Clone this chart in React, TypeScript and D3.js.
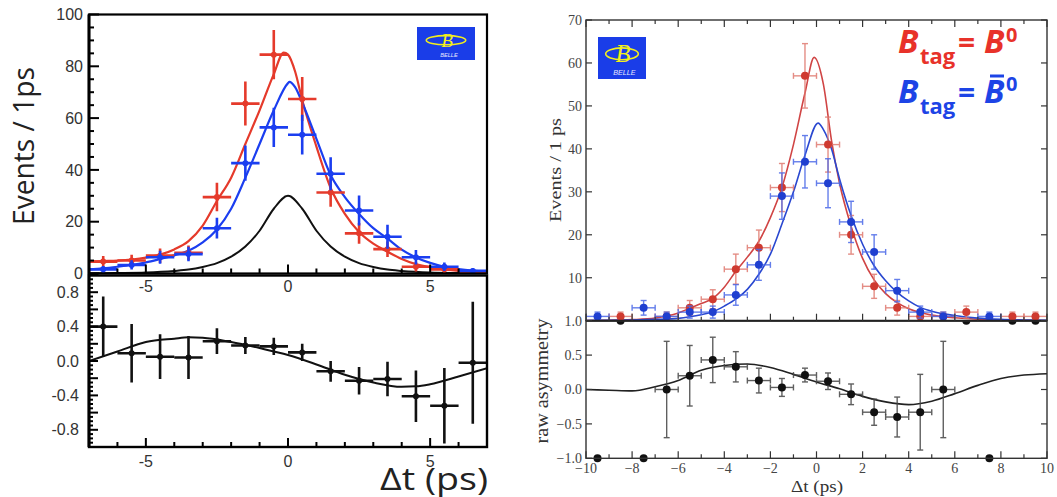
import React from 'react';
import * as d3 from 'd3';

// ================= LEFT PANEL (Belle, events vs Δt) =================
const leftBins = [-6.5, -5.5, -4.5, -3.5, -2.5, -1.5, -0.5, 0.5, 1.5, 2.5, 3.5, 4.5, 5.5, 6.5];
const leftRedEvents = [4.6, 5.0, 6.9, 8.0, 29.5, 65.6, 84.5, 67.4, 31.3, 15.5, 9.4, 2.6, 1.6, 0.7];
const leftRedErr = [2.2, 2.2, 2.8, 2.8, 5.5, 8.5, 9.5, 8.5, 5.5, 4.0, 3.0, 1.8, 1.4, 1.0];
const leftBlueEvents = [1.6, 3.3, 6.3, 7.5, 17.5, 42.6, 56.4, 53.6, 38.5, 24.3, 14.2, 6.3, 2.6, 1.0];
const leftBlueErr = [1.3, 1.8, 2.5, 2.8, 4.0, 6.8, 7.6, 7.7, 6.4, 5.8, 4.6, 2.8, 1.6, 1.0];
const leftAsym = [0.40, 0.09, 0.05, 0.04, 0.23, 0.18, 0.17, 0.10, -0.12, -0.23, -0.21, -0.41, -0.52, -0.02];
const leftAsymErr = [0.35, 0.34, 0.26, 0.25, 0.15, 0.10, 0.10, 0.10, 0.12, 0.16, 0.20, 0.30, 0.44, 0.71];

const leftRedFitX = [-7, -6.5, -6, -5.5, -5, -4.5, -4, -3.5, -3, -2.5, -2, -1.5, -1, -0.5, -0.15, 0, 0.25, 0.5, 1, 1.5, 2, 2.5, 3, 3.5, 4, 4.5, 5, 5.5, 6, 6.5, 7];
const leftRedFitY = [4.6, 4.8, 5.0, 5.4, 6.1, 7.3, 9.3, 12.5, 18.5, 28, 37, 50, 63, 77, 85.3, 84.5, 78, 67, 49, 33, 23, 16, 11.5, 8.4, 5.6, 3.6, 2.4, 1.6, 1.0, 0.6, 0.3];
const leftBlueFitX = [-7, -6.5, -6, -5.5, -5, -4.5, -4, -3.5, -3, -2.5, -2, -1.5, -1, -0.5, 0, 0.05, 0.25, 0.5, 1, 1.5, 2, 2.5, 3, 3.5, 4, 4.5, 5, 5.5, 6, 6.5, 7];
const leftBlueFitY = [1.6, 2.0, 2.6, 3.3, 4.3, 5.6, 7.0, 8.8, 12, 17, 25, 37, 50, 63, 73.5, 74, 72, 66, 52, 38, 29.5, 23, 17.5, 13.5, 9.2, 6.2, 4.1, 2.6, 1.7, 1.1, 0.7];
const leftBlackFitX = [-7, -6, -5, -4, -3.5, -3, -2.5, -2, -1.5, -1, -0.5, 0, 0.5, 1, 1.5, 2, 2.5, 3, 3.5, 4, 5, 6, 7];
const leftBlackFitY = [0.1, 0.2, 0.4, 1.0, 1.5, 2.5, 4.0, 6.5, 10.4, 16.5, 25, 30, 25, 16.5, 10.4, 6.5, 4.0, 2.5, 1.5, 1.0, 0.4, 0.2, 0.1];
const leftAsymFitX = [-7, -6, -5, -4, -3.5, -3, -2, -1, 0, 1, 2, 3, 4, 4.5, 5, 6, 7];
const leftAsymFitY = [0.0, 0.11, 0.22, 0.26, 0.275, 0.27, 0.22, 0.15, 0.07, -0.04, -0.16, -0.25, -0.30, -0.295, -0.27, -0.18, -0.085];

const leftYTopLabels = [0, 20, 40, 60, 80, 100];
const leftYBottomLabels = [0.8, 0.4, 0.0, -0.4, -0.8];
const leftXLabels = [-5, 0, 5];

// ================= RIGHT PANEL (Belle, events vs Δt, raw asymmetry) =================
const rightBins = [-9.5, -8.5, -7.5, -6.5, -5.5, -4.5, -3.5, -2.5, -1.5, -0.5, 0.5, 1.5, 2.5, 3.5, 4.5, 5.5, 6.5, 7.5, 8.5, 9.5];
const rightRedEvents = [0, 1, 0, 1, 3, 5, 12, 17, 31, 57, 41, 20, 8, 3, 1, 1, 2, 0, 1, 1];
const rightRedErr = [0, 1, 0, 1, 1.7, 2.2, 3.5, 4.1, 5.6, 7.5, 6.4, 4.5, 2.8, 1.7, 1, 1, 1.4, 0, 1, 1];
const rightBlueEvents = [1, 0, 3, 1, 2, 2, 6, 13, 29, 37, 32, 23, 16, 7, 2, 1, 0, 1, 0, 0];
const rightBlueErr = [1, 0, 1.7, 1, 1.4, 1.4, 2.4, 3.6, 5.4, 6.1, 5.7, 4.8, 4.0, 2.6, 1.4, 1, 0, 1, 0, 0];
const rightAsym = [-1, 1, -1, 0.0, 0.2, 0.43, 0.33, 0.13, 0.03, 0.21, 0.12, -0.07, -0.33, -0.4, -0.33, 0.0, 1, -1, 1, 1];
const rightAsymErr = [0, 0, 0, 0.7, 0.44, 0.33, 0.22, 0.18, 0.13, 0.10, 0.12, 0.15, 0.19, 0.29, 0.55, 0.7, 0, 0, 0, 0];

const rightRedFitX = [-10, -9, -8, -7, -6.5, -6, -5.5, -5, -4.5, -4, -3.5, -3, -2.5, -2, -1.5, -1, -0.5, -0.1, 0.3, 0.65, 1, 1.5, 2, 2.5, 3, 3.5, 4, 4.5, 5, 6, 7, 8, 9, 10];
const rightRedFitY = [0.05, 0.1, 0.25, 0.6, 1.1, 1.8, 2.9, 4.0, 5.2, 7.8, 11.5, 14.8, 18.5, 24, 31, 41, 53, 61.3, 55, 42, 32, 22, 14.5, 9.5, 6.3, 4.2, 2.8, 1.9, 1.3, 0.7, 0.35, 0.2, 0.1, 0.05];
const rightBlueFitX = [-10, -9, -8, -7, -6, -5.5, -5, -4.5, -4, -3.5, -3, -2.5, -2, -1.5, -1, -0.5, 0.07, 0.3, 0.65, 1, 1.5, 2, 2.5, 3, 3.5, 4, 4.5, 5, 6, 7, 8, 9, 10];
const rightBlueFitY = [0.05, 0.1, 0.15, 0.3, 0.55, 0.9, 1.4, 2.1, 3.4, 5.0, 7.3, 10.8, 15.5, 22.5, 30, 38.5, 46, 44.5, 40, 33, 24.5, 17.8, 12.8, 9.3, 6.6, 4.6, 3.1, 2.2, 1.2, 0.6, 0.3, 0.15, 0.08];
const rightAsymFitX = [-10, -9, -8, -7, -6, -5, -4, -3, -2, -1, 0, 1, 2, 3, 4, 5, 6, 7, 8, 9, 10];
const rightAsymFitY = [0.0, -0.01, -0.02, 0.04, 0.13, 0.28, 0.35, 0.37, 0.32, 0.22, 0.11, 0.01, -0.1, -0.18, -0.22, -0.17, -0.06, 0.06, 0.16, 0.21, 0.23];

const rightYTopLabels = [10, 20, 30, 40, 50, 60, 70];
const rightYBottomLabels = [-1.0, -0.5, 0.0, 0.5, 1.0];
const rightXLabels = [-10, -8, -6, -4, -2, 0, 2, 4, 6, 8, 10];

const LRED = '#e53a2b';
const LBLUE = '#1b3ef0';
const RRED = '#cf3a30';
const RBLUE = '#1f3fd0';

type Sc = d3.ScaleLinear<number, number>;

function curvePath(xs: number[], ys: number[], x: Sc, y: Sc) {
  const pts: [number, number][] = xs.map((v, i) => [v, ys[i]]);
  return d3
    .line<[number, number]>()
    .x((d) => x(d[0]))
    .y((d) => y(d[1]))
    .curve(d3.curveMonotoneX)(pts) as string;
}

function LeftPoints({ bins, vals, errs, x, y, color }: { bins: number[]; vals: number[]; errs: number[]; x: Sc; y: Sc; color: string }) {
  return (
    <g stroke={color} fill={color} strokeWidth={2.6}>
      {bins.map((b, i) => (
        <g key={i}>
          <line x1={x(b - 0.5)} x2={x(b + 0.5)} y1={y(vals[i])} y2={y(vals[i])} />
          <line x1={x(b)} x2={x(b)} y1={y(vals[i] - errs[i])} y2={y(vals[i] + errs[i])} />
          <circle cx={x(b)} cy={y(vals[i])} r={3} stroke="none" />
        </g>
      ))}
    </g>
  );
}

function RightPoints({ bins, vals, errs, x, y, color, barColor, skipZero, noErrAtEdge }: { bins: number[]; vals: number[]; errs: number[]; x: Sc; y: Sc; color: string; barColor: string; skipZero?: boolean; noErrAtEdge?: boolean }) {
  const cap = 3;
  return (
    <g>
      {bins.map((b, i) => {
        if (skipZero && vals[i] === 0) return null;
        const cx = x(b);
        const cy = y(vals[i]);
        const showErr = !(noErrAtEdge && errs[i] === 0);
        const y1 = y(vals[i] - errs[i]);
        const y2 = y(vals[i] + errs[i]);
        const xa = x(b - 0.5);
        const xb = x(b + 0.5);
        return (
          <g key={i}>
            {showErr && (
              <g stroke={barColor} strokeWidth={1.4} opacity={0.85}>
                <line x1={xa} x2={xb} y1={cy} y2={cy} />
                <line x1={xa} x2={xa} y1={cy - cap} y2={cy + cap} />
                <line x1={xb} x2={xb} y1={cy - cap} y2={cy + cap} />
                {errs[i] > 0 && (
                  <g>
                    <line x1={cx} x2={cx} y1={y1} y2={y2} />
                    <line x1={cx - cap} x2={cx + cap} y1={y1} y2={y1} />
                    <line x1={cx - cap} x2={cx + cap} y1={y2} y2={y2} />
                  </g>
                )}
              </g>
            )}
            <circle cx={cx} cy={cy} r={4} fill={color} />
          </g>
        );
      })}
    </g>
  );
}

function BelleLogo({ x, y, w, h }: { x: number; y: number; w: number; h: number }) {
  return (
    <g>
      <rect x={x} y={y} width={w} height={h} fill="#1a3de8" />
      <ellipse cx={x + w * 0.5} cy={y + h * 0.4} rx={w * 0.34} ry={h * 0.14} fill="none" stroke="#f2ee1c" strokeWidth={1.6} />
      <text x={x + w * 0.52} y={y + h * 0.6} textAnchor="middle" fontFamily="Liberation Serif" fontStyle="italic" fontSize={h * 0.58} fill="#f2ee1c">
        B
      </text>
      <text x={x + w * 0.55} y={y + h * 0.9} textAnchor="middle" fontFamily="Liberation Sans" fontStyle="italic" fontSize={h * 0.17} fill="#e8e8ff">
        BELLE
      </text>
    </g>
  );
}

export default function App() {
  // left scales
  const xL = d3.scaleLinear().domain([-7, 7]).range([89, 487]);
  const yLT = d3.scaleLinear().domain([0, 100]).range([273.5, 14.5]);
  const yLB = d3.scaleLinear().domain([-1, 1]).range([447, 275]);
  // right scales
  const xR = d3.scaleLinear().domain([-10, 10]).range([586, 1047]);
  const yRT = d3.scaleLinear().domain([0, 70]).range([320.7, 20]);
  const yRB = d3.scaleLinear().domain([-1, 1]).range([458.3, 320.7]);

  const lTop = { x0: 89, x1: 487, y0: 14.5, y1: 273.5 };
  const lBot = { x0: 89, x1: 487, y0: 275.5, y1: 447 };
  const rTop = { x0: 586, x1: 1047, y0: 20, y1: 320.7 };
  const rBot = { x0: 586, x1: 1047, y0: 320.7, y1: 458.3 };

  const lfmt = (v: number) => (Number.isInteger(v) && Math.abs(v) >= 1 ? String(v) : v.toFixed(1));
  const rfmt = (v: number) => v.toFixed(1).replace('-', '\u2212');

  return (
    <svg width={1057} height={497} style={{ position: 'absolute', left: 0, top: 0, background: '#fff' }}>
      <defs>
        <clipPath id="clipLT">
          <rect x={lTop.x0} y={lTop.y0} width={lTop.x1 - lTop.x0} height={lTop.y1 - lTop.y0} />
        </clipPath>
        <clipPath id="clipLB">
          <rect x={lBot.x0} y={lBot.y0} width={lBot.x1 - lBot.x0} height={lBot.y1 - lBot.y0} />
        </clipPath>
        <clipPath id="clipRT">
          <rect x={rTop.x0} y={rTop.y0 - 5} width={rTop.x1 - rTop.x0} height={rTop.y1 - rTop.y0 + 5} />
        </clipPath>
        <clipPath id="clipRB">
          <rect x={rBot.x0} y={rBot.y0} width={rBot.x1 - rBot.x0} height={rBot.y1 - rBot.y0 + 6} />
        </clipPath>
      </defs>

      {/* ================= LEFT PANEL ================= */}
      <g clipPath="url(#clipLT)">
        <path d={curvePath(leftBlackFitX, leftBlackFitY, xL, yLT)} fill="none" stroke="#111" strokeWidth={2} />
        <path d={curvePath(leftRedFitX, leftRedFitY, xL, yLT)} fill="none" stroke={LRED} strokeWidth={2.2} />
        <path d={curvePath(leftBlueFitX, leftBlueFitY, xL, yLT)} fill="none" stroke={LBLUE} strokeWidth={2.2} />
        <LeftPoints bins={leftBins} vals={leftRedEvents} errs={leftRedErr} x={xL} y={yLT} color={LRED} />
        <LeftPoints bins={leftBins} vals={leftBlueEvents} errs={leftBlueErr} x={xL} y={yLT} color={LBLUE} />
      </g>
      <g clipPath="url(#clipLB)">
        <path d={curvePath(leftAsymFitX, leftAsymFitY, xL, yLB)} fill="none" stroke="#111" strokeWidth={2} />
        <LeftPoints bins={leftBins} vals={leftAsym} errs={leftAsymErr} x={xL} y={yLB} color="#111" />
      </g>

      {/* left frames */}
      <rect x={lTop.x0} y={lTop.y0} width={lTop.x1 - lTop.x0} height={lTop.y1 - lTop.y0} fill="none" stroke="#000" strokeWidth={2.2} />
      <rect x={lBot.x0} y={lBot.y0} width={lBot.x1 - lBot.x0} height={lBot.y1 - lBot.y0} fill="none" stroke="#000" strokeWidth={2.4} />
      <line x1={lTop.x0} x2={lTop.x0} y1={lTop.y0} y2={lBot.y1} stroke="#000" strokeWidth={3} />

      {/* left ticks */}
      <g stroke="#000" strokeWidth={2}>
        {d3.range(0, 101, 5).map((v) => (
          <line key={'lty' + v} x1={lTop.x0} x2={lTop.x0 + (v % 20 === 0 ? 10 : 5)} y1={yLT(v)} y2={yLT(v)} />
        ))}
        {d3.range(-7, 8, 1).map((v) => (
          <line key={'ltx' + v} x1={xL(v)} x2={xL(v)} y1={lTop.y1} y2={lTop.y1 - (v % 5 === 0 ? 9 : 5)} />
        ))}
        {d3.range(-20, 21, 1).map((k) => (
          <line key={'lby' + k} x1={lBot.x0} x2={lBot.x0 + (k % 4 === 0 ? 9 : 4)} y1={yLB(k * 0.05)} y2={yLB(k * 0.05)} />
        ))}
        {d3.range(-7, 8, 1).map((v) => (
          <line key={'lbx' + v} x1={xL(v)} x2={xL(v)} y1={lBot.y1} y2={lBot.y1 - (v % 5 === 0 ? 9 : 5)} />
        ))}
      </g>

      {/* left tick labels */}
      <g fontFamily="Liberation Sans, Arial, sans-serif" fontSize={16} fill="#333">
        {leftYTopLabels.map((v) => (
          <text key={'ltl' + v} x={83} y={yLT(v)} dy="0.35em" textAnchor="end">
            {String(v)}
          </text>
        ))}
        {leftYBottomLabels.map((v) => (
          <text key={'lbl' + v} x={79} y={yLB(v)} dy="0.35em" textAnchor="end">
            {lfmt(v)}
          </text>
        ))}
        {leftXLabels.map((v) => (
          <text key={'lxa' + v} x={xL(v)} y={286} dy="0.35em" textAnchor="middle">
            {String(v)}
          </text>
        ))}
        {leftXLabels.map((v) => (
          <text key={'lxb' + v} x={xL(v)} y={461} dy="0.35em" textAnchor="middle">
            {String(v)}
          </text>
        ))}
      </g>
      <text transform="translate(34,146) rotate(-90)" textAnchor="middle" fontFamily="Open Sans, sans-serif" fontSize={30} fill="#222" textLength={158} lengthAdjust="spacingAndGlyphs">
        Events / 1ps
      </text>
      <text x={380} y={490} fontFamily="Open Sans, sans-serif" fontSize={31} fill="#222" textLength={108} lengthAdjust="spacingAndGlyphs">
        Δt (ps)
      </text>
      <BelleLogo x={417} y={27} w={58} h={33} />

      {/* ================= RIGHT PANEL ================= */}
      <g clipPath="url(#clipRT)">
        <path d={curvePath(rightRedFitX, rightRedFitY, xR, yRT)} fill="none" stroke="#d04545" strokeWidth={1.6} />
        <path d={curvePath(rightBlueFitX, rightBlueFitY, xR, yRT)} fill="none" stroke="#2a48d0" strokeWidth={1.6} />
        <RightPoints bins={rightBins} vals={rightRedEvents} errs={rightRedErr} x={xR} y={yRT} color={RRED} barColor="#e07a70" skipZero />
        <RightPoints bins={rightBins} vals={rightBlueEvents} errs={rightBlueErr} x={xR} y={yRT} color={RBLUE} barColor="#4a68e8" skipZero />
      </g>
      <g clipPath="url(#clipRB)">
        <path d={curvePath(rightAsymFitX, rightAsymFitY, xR, yRB)} fill="none" stroke="#222" strokeWidth={1.6} />
        <RightPoints bins={rightBins} vals={rightAsym} errs={rightAsymErr} x={xR} y={yRB} color="#111" barColor="#444" noErrAtEdge />
      </g>

      {/* right frames */}
      <rect x={rTop.x0} y={rTop.y0} width={rTop.x1 - rTop.x0} height={rTop.y1 - rTop.y0} fill="none" stroke="#333" strokeWidth={1.4} />
      <rect x={rBot.x0} y={rBot.y0} width={rBot.x1 - rBot.x0} height={rBot.y1 - rBot.y0} fill="none" stroke="#333" strokeWidth={1.4} />
      <line x1={rTop.x0} x2={rTop.x1} y1={rTop.y1} y2={rTop.y1} stroke="#222" strokeWidth={2} />

      {/* right ticks */}
      <g stroke="#333" strokeWidth={1.2}>
        {d3.range(10, 71, 10).map((v) => (
          <g key={'rty' + v}>
            <line x1={rTop.x0} x2={rTop.x0 + 6} y1={yRT(v)} y2={yRT(v)} />
            <line x1={rTop.x1} x2={rTop.x1 - 6} y1={yRT(v)} y2={yRT(v)} />
          </g>
        ))}
        {d3.range(-10, 11, 1).map((v) => (
          <g key={'rtx' + v}>
            <line x1={xR(v)} x2={xR(v)} y1={rTop.y0} y2={rTop.y0 + (v % 2 === 0 ? 7 : 4)} />
            <line x1={xR(v)} x2={xR(v)} y1={rTop.y1} y2={rTop.y1 - (v % 2 === 0 ? 7 : 4)} />
            <line x1={xR(v)} x2={xR(v)} y1={rBot.y1} y2={rBot.y1 - (v % 2 === 0 ? 7 : 4)} />
          </g>
        ))}
        {d3.range(-1, 1.01, 0.5).map((v) => (
          <g key={'rby' + v}>
            <line x1={rBot.x0} x2={rBot.x0 + 6} y1={yRB(v)} y2={yRB(v)} />
            <line x1={rBot.x1} x2={rBot.x1 - 6} y1={yRB(v)} y2={yRB(v)} />
          </g>
        ))}
      </g>

      {/* right tick labels */}
      <g fontFamily="Liberation Serif, DejaVu Serif, serif" fontSize={14} fill="#444">
        {rightYTopLabels.map((v) => (
          <text key={'rtl' + v} x={582} y={yRT(v)} dy="0.35em" textAnchor="end">
            {String(v)}
          </text>
        ))}
        {rightYBottomLabels.map((v) => (
          <text key={'rbl' + v} x={582} y={yRB(v)} dy="0.35em" textAnchor="end">
            {rfmt(v)}
          </text>
        ))}
        {rightXLabels.map((v) => (
          <text key={'rxl' + v} x={xR(v)} y={468} dy="0.35em" textAnchor="middle">
            {String(v).replace('-', '\u2212')}
          </text>
        ))}
      </g>
      <text transform="translate(561,170) rotate(-90)" textAnchor="middle" fontFamily="Liberation Serif, serif" fontSize={16} fill="#333" textLength={104} lengthAdjust="spacingAndGlyphs">
        Events / 1 ps
      </text>
      <text transform="translate(548,381) rotate(-90)" textAnchor="middle" fontFamily="Liberation Serif, serif" fontSize={19} fill="#333" textLength={125} lengthAdjust="spacingAndGlyphs">
        raw asymmetry
      </text>
      <text x={817} y={492} textAnchor="middle" fontFamily="Liberation Serif, serif" fontSize={17} fill="#333" textLength={52} lengthAdjust="spacingAndGlyphs">
        Δt (ps)
      </text>

      <BelleLogo x={598} y={37} w={48} h={42} />

      {/* legend-like annotations */}
      <g fontFamily="Open Sans, sans-serif" fontWeight="bold" fill="#e8322a">
        <text x={898} y={53} fontSize={33} fontStyle="italic">B</text>
        <text x={920} y={64} fontSize={22}>tag</text>
        <text x={958} y={53} fontSize={30}>=</text>
        <text x={984} y={53} fontSize={33} fontStyle="italic">B</text>
        <text x={1006} y={42} fontSize={20}>0</text>
      </g>
      <g fontFamily="Open Sans, sans-serif" fontWeight="bold" fill="#1d44e6">
        <text x={898} y={103} fontSize={33} fontStyle="italic">B</text>
        <text x={920} y={114} fontSize={22}>tag</text>
        <text x={958} y={103} fontSize={30}>=</text>
        <text x={984} y={103} fontSize={33} fontStyle="italic">B</text>
        <line x1={990} x2={1004} y1={76} y2={76} stroke="#1d44e6" strokeWidth={3} />
        <text x={1006} y={91} fontSize={20}>0</text>
      </g>
    </svg>
  );
}
